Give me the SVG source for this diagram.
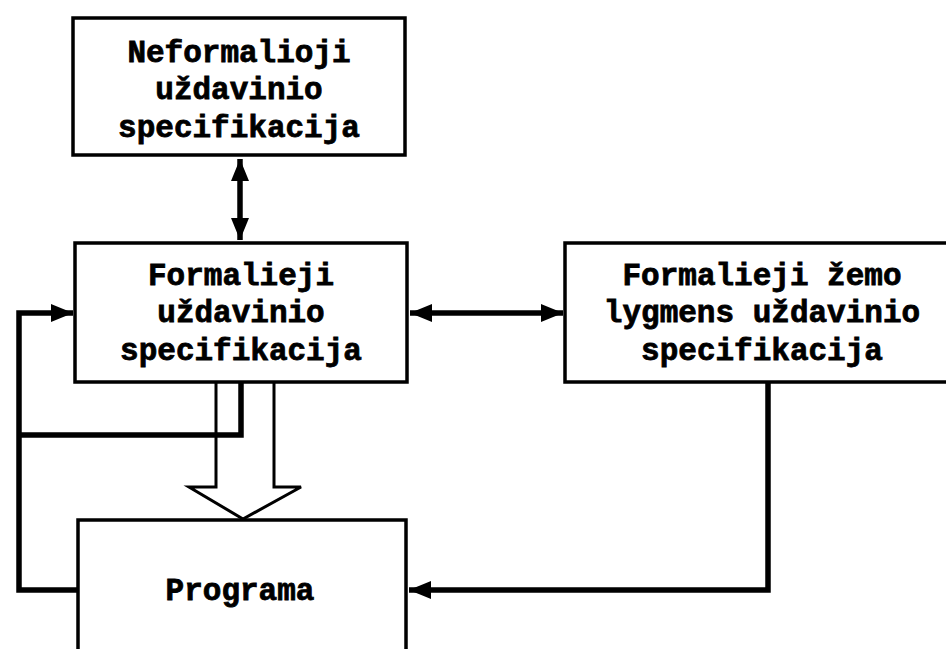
<svg xmlns="http://www.w3.org/2000/svg" width="946" height="649" viewBox="0 0 946 649">
<style>
.box{fill:#fff;stroke:#000;stroke-width:3.5}
.t{font-family:"Liberation Mono","DejaVu Sans Mono",monospace;font-weight:bold;font-size:31px;fill:#000;stroke:#000;stroke-width:0.8;text-anchor:middle}
.c{fill:none;stroke:#000;stroke-width:5.5;stroke-linejoin:miter}
.thin{fill:none;stroke:#000;stroke-width:3}
</style>
<defs>
<marker id="ah" viewBox="0 0 22 18" refX="22" refY="9" markerWidth="22" markerHeight="18" markerUnits="userSpaceOnUse" orient="auto-start-reverse">
<path d="M0,0 L22,9 L0,18 Z" fill="#000"/>
</marker>
</defs>
<rect width="946" height="649" fill="#fff"/>
<g id="connectors">
<path class="c" d="M240,159 V240" marker-start="url(#ah)" marker-end="url(#ah)"/>
<path class="c" d="M410,313 H563" marker-start="url(#ah)" marker-end="url(#ah)"/>
<path class="c" d="M78,590 H19 V313 H73" marker-end="url(#ah)"/>
<path class="c" d="M241,383 V435 H19"/>
<path class="c" d="M768,383 V590 H409" marker-end="url(#ah)"/>
<path class="thin" d="M216,383 V487 H189 L243,519 L301,487 H274 V383"/>
</g>
<g id="n1">
<rect class="box" x="73" y="18" width="332" height="137"/>
<text class="t" x="239" y="62">Neformalioji</text>
<text class="t" x="239" y="99">uždavinio</text>
<text class="t" x="239" y="137">specifikacija</text>
</g>
<g id="n2">
<rect class="box" x="75" y="243" width="332" height="139"/>
<text class="t" x="241" y="285">Formalieji</text>
<text class="t" x="241" y="322">uždavinio</text>
<text class="t" x="241" y="360">specifikacija</text>
</g>
<g id="n3">
<rect class="box" x="565" y="243" width="390" height="139"/>
<text class="t" x="762" y="285">Formalieji žemo</text>
<text class="t" x="762" y="322">lygmens uždavinio</text>
<text class="t" x="762" y="360">specifikacija</text>
</g>
<g id="n4">
<rect class="box" x="78" y="520" width="328" height="150"/>
<text class="t" x="240" y="600">Programa</text>
</g>
</svg>
